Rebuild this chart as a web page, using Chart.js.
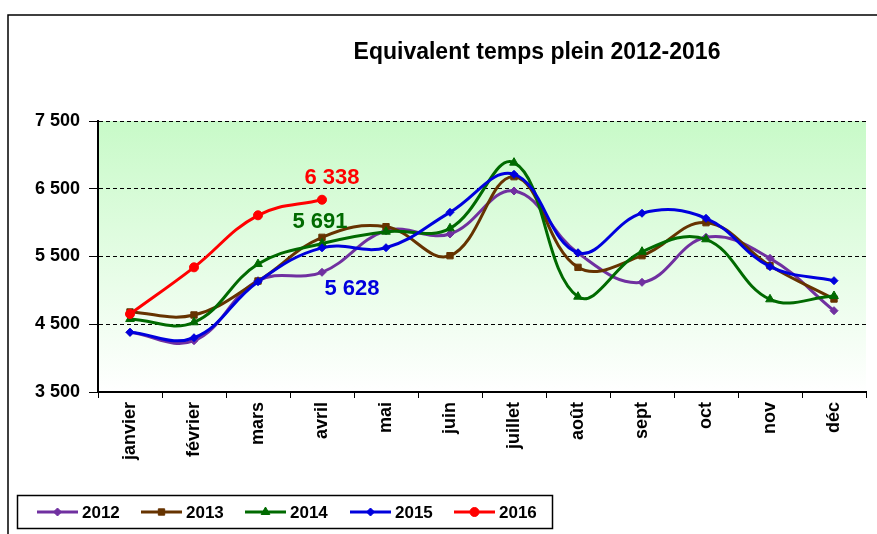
<!DOCTYPE html>
<html>
<head>
<meta charset="utf-8">
<script src="https://cdn.jsdelivr.net/npm/chart.js@4.4.1/dist/chart.umd.min.js"></script>
<style>
  html, body { margin: 0; padding: 0; background: #fff; }
  #wrap { width: 877px; height: 534px; position: relative; }
</style>
</head>
<body>
<div id="wrap"><canvas id="c" width="877" height="534"></canvas></div>
<script>
const months = ["janvier", "février", "mars", "avril", "mai", "juin", "juillet", "août", "sept", "oct", "nov", "déc"];
const seriesNames = ["2012", "2013", "2014", "2015", "2016"];
const values2012 = [4381, 4257, 5143, 5267, 5880, 5832, 6467, 5550, 5119, 5783, 5473, 4700];
const values2013 = [4681, 4637, 5138, 5783, 5940, 5512, 6678, 5340, 5512, 5999, 5364, 4873];
const values2014 = [4577, 4529, 5389, 5691, 5866, 5916, 6885, 4907, 5571, 5754, 4868, 4917];
const values2015 = [4381, 4301, 5128, 5628, 5630, 6152, 6713, 5556, 6138, 6064, 5350, 5143];
const values2016 = [4651, 5340, 6108, 6338];
const yTicks = [3500, 4500, 5500, 6500, 7500];
const chartTitle = "Equivalent temps plein 2012-2016";

const colors = ["#7030A0", "#663300", "#006A00", "#0000DD", "#FF0000"];
const styles = ["rectRot", "rect", "triangle", "rectRot", "circle"];
const radii = [4, 4.5, 5, 4, 4.5];
const allValues = [values2012, values2013, values2014, values2015, values2016];

function fmt(v) {
  return String(v).replace(/\B(?=(\d{3})+(?!\d))/g, " ");
}

const datasets = allValues.map((vals, i) => ({
  label: seriesNames[i],
  data: vals,
  borderColor: colors[i],
  backgroundColor: colors[i],
  pointBackgroundColor: colors[i],
  pointBorderColor: colors[i],
  pointStyle: styles[i],
  pointRadius: radii[i],
  pointBorderWidth: 1,
  borderWidth: 3,
  tension: 0.4,
  fill: false,
  order: 5 - i
}));

const FONT = "'Liberation Sans', Arial, sans-serif";

const decor = {
  id: 'decor',
  beforeDraw(chart) {
    const ctx = chart.ctx;
    const a = chart.chartArea;
    ctx.save();
    ctx.fillStyle = '#fff';
    ctx.fillRect(0, 0, chart.width, chart.height);
    // outer frame
    ctx.strokeStyle = '#000';
    ctx.lineWidth = 1.5;
    ctx.beginPath();
    ctx.moveTo(8, chart.height + 2);
    ctx.lineTo(8, 15);
    ctx.lineTo(chart.width + 2, 15);
    ctx.stroke();
    // gradient plot background
    const g = ctx.createLinearGradient(0, a.top, 0, a.bottom);
    g.addColorStop(0, 'rgb(200,250,200)');
    g.addColorStop(1, 'rgb(255,255,255)');
    ctx.fillStyle = g;
    ctx.fillRect(a.left, a.top, a.right - a.left, a.bottom - a.top);
    // title
    ctx.fillStyle = '#000';
    ctx.font = "bold 23px " + FONT;
    ctx.textAlign = 'center';
    ctx.textBaseline = 'middle';
    ctx.fillText(chartTitle, 537, 53);
    ctx.restore();
  },
  afterDraw(chart) {
    const ctx = chart.ctx;
    ctx.save();
    // data labels for avril
    const idx = 3;
    const lab = [
      { ds: 4, dx: 10, dy: -22 },
      { ds: 2, dx: -2, dy: -22 },
      { ds: 3, dx: 30, dy: 41 }
    ];
    ctx.font = "bold 22px " + FONT;
    ctx.textAlign = 'center';
    ctx.textBaseline = 'middle';
    lab.forEach(l => {
      const meta = chart.getDatasetMeta(l.ds);
      const p = meta.data[idx];
      ctx.fillStyle = colors[l.ds];
      ctx.fillText(fmt(chart.data.datasets[l.ds].data[idx]), p.x + l.dx, p.y + l.dy);
    });
    // legend
    ctx.strokeStyle = '#000';
    ctx.lineWidth = 1.5;
    ctx.strokeRect(17.5, 495.5, 535, 33);
    const starts = [37, 141, 245, 350, 454];
    const ly = 512;
    ctx.font = "bold 17px " + FONT;
    ctx.textAlign = 'left';
    ctx.textBaseline = 'middle';
    chart.data.datasets.forEach((ds, i) => {
      const x0 = starts[i];
      ctx.strokeStyle = ds.borderColor;
      ctx.lineWidth = 3;
      ctx.beginPath();
      ctx.moveTo(x0, ly);
      ctx.lineTo(x0 + 41, ly);
      ctx.stroke();
      ctx.fillStyle = ds.borderColor;
      ctx.strokeStyle = ds.borderColor;
      ctx.lineWidth = 1;
      Chart.helpers.drawPoint(ctx, { pointStyle: ds.pointStyle, radius: ds.pointRadius, rotation: 0, borderWidth: 1 }, x0 + 20.5, ly);
      ctx.fillStyle = '#000';
      ctx.fillText(ds.label, x0 + 45, ly + 1);
    });
    ctx.restore();
  }
};

new Chart(document.getElementById('c'), {
  type: 'line',
  data: { labels: months, datasets: datasets },
  options: {
    responsive: false,
    animation: false,
    events: [],
    layout: { padding: { left: 0, right: 11, top: 121, bottom: 0 } },
    plugins: {
      legend: { display: false },
      title: { display: false },
      tooltip: { enabled: false }
    },
    scales: {
      x: {
        offset: true,
        grid: { drawOnChartArea: false, drawTicks: true, tickLength: 6, tickColor: '#000', offset: true, tickWidth: 1 },
        border: { display: true, color: '#000', width: 2 },
        ticks: {
          color: '#000',
          font: { family: FONT, size: 18, weight: 'bold' },
          minRotation: 90, maxRotation: 90, autoSkip: false, padding: 4
        },
        afterFit(s) { s.height = 142; }
      },
      y: {
        min: 3500, max: 7500,
        afterBuildTicks(s) { s.ticks = yTicks.map(v => ({ value: v })); },
        grid: { color: '#000', lineWidth: 1, tickLength: 9, tickColor: '#000', tickBorderDash: [] },
        border: { display: true, color: '#000', width: 2, dash: [4, 3] },
        ticks: {
          color: '#000',
          font: { family: FONT, size: 18, weight: 'bold' },
          padding: 9,
          callback: (v) => fmt(v)
        },
        afterFit(s) { s.width = 98; }
      }
    }
  },
  plugins: [decor]
});
</script>
</body>
</html>
